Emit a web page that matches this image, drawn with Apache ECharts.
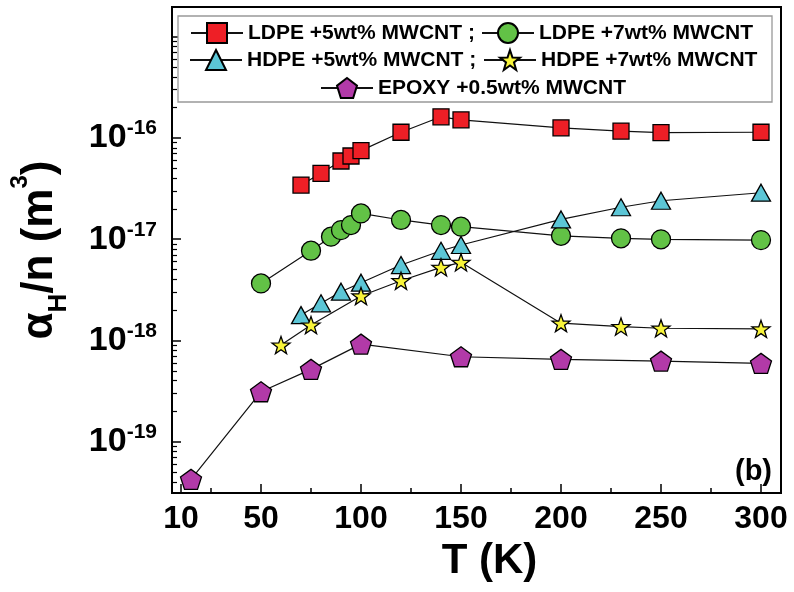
<!DOCTYPE html>
<html><head><meta charset="utf-8">
<script src="https://cdn.jsdelivr.net/npm/echarts@6/dist/echarts.min.js"></script>
<style>html,body{margin:0;padding:0;background:#fff}#c{width:794px;height:592px}</style>
</head><body><div id="c"></div>
<script>
const FONT = "'Liberation Sans', Arial, sans-serif";
const names = ['LDPE +5wt% MWCNT', 'LDPE +7wt% MWCNT', 'HDPE +5wt% MWCNT', 'HDPE +7wt% MWCNT', 'EPOXY +0.5wt% MWCNT'];

const T_LDPE5 = [70, 80, 90, 95, 100, 120, 140, 150, 200, 230, 250, 300];
const V_LDPE5 = [3.43e-17, 4.48e-17, 5.93e-17, 6.64e-17, 7.5e-17, 1.14e-16, 1.62e-16, 1.51e-16, 1.26e-16, 1.17e-16, 1.13e-16, 1.14e-16];
const T_LDPE7 = [50, 75, 85, 90, 95, 100, 120, 140, 150, 200, 230, 250, 300];
const V_LDPE7 = [3.66e-18, 7.7e-18, 1.06e-17, 1.23e-17, 1.38e-17, 1.8e-17, 1.55e-17, 1.38e-17, 1.33e-17, 1.08e-17, 1.02e-17, 9.98e-18, 9.8e-18];
const T_HDPE5 = [70, 80, 90, 100, 120, 140, 150, 200, 230, 250, 300];
const V_HDPE5 = [1.78e-18, 2.33e-18, 3.03e-18, 3.72e-18, 5.56e-18, 7.69e-18, 8.77e-18, 1.57e-17, 2.07e-17, 2.4e-17, 2.88e-17];
const T_HDPE7 = [60, 75, 100, 120, 140, 150, 200, 230, 250, 300];
const V_HDPE7 = [9.0e-19, 1.42e-18, 2.75e-18, 3.89e-18, 5.27e-18, 5.91e-18, 1.48e-18, 1.37e-18, 1.32e-18, 1.30e-18];
const T_EPOXY = [15, 50, 75, 100, 150, 200, 250, 300];
const V_EPOXY = [4.24e-20, 3.11e-19, 5.18e-19, 9.2e-19, 6.9e-19, 6.5e-19, 6.25e-19, 5.94e-19];

const xMajorTicks = [10, 50, 100, 150, 200, 250, 300];
const xMinorTicks = [25, 75, 125, 175, 225, 275];
const yMajorTicks = [1e-19, 1e-18, 1e-17, 1e-16, 1e-15];
const yLabelTicks = [1e-19, 1e-18, 1e-17, 1e-16];
const yDecades = [1e-20, 1e-19, 1e-18, 1e-17, 1e-16];
const yMinorMult = [2, 3, 4, 5, 6, 7, 8, 9];
const yMinorTicks = [];
yDecades.forEach(d => yMinorMult.forEach(m => yMinorTicks.push(m * d)));

const STAR = 'path://M50 0 L61.76 33.82 L97.55 34.55 L69.02 56.18 L79.39 90.45 L50 70 L20.61 90.45 L30.98 56.18 L2.45 34.55 L38.24 33.82 Z';
const PENTA = 'path://M50 0 L97.55 34.55 L79.39 90.45 L20.61 90.45 L2.45 34.55 Z';

function pairs(t, v) { return t.map((x, i) => [x, v[i]]); }
function mk(name, t, v, symbol, size, color) {
  return {
    name, type: 'line', data: pairs(t, v), symbol, symbolSize: size, symbolKeepAspect: true,
    itemStyle: { color, borderColor: '#000', borderWidth: 1.3 },
    lineStyle: { color: '#111', width: 1.2 },
    emphasis: { disabled: true }
  };
}

const chart = echarts.init(document.getElementById('c'), null, { renderer: 'canvas' });
const legendBase = {
  padding: 0, itemWidth: 52, itemHeight: 25, itemGap: 0, selectedMode: false,
  textStyle: { fontSize: 21, fontWeight: 'bold', color: '#000', fontFamily: FONT }
};
const semi = n => n + ' ;';
chart.setOption({
  animation: false,
  backgroundColor: '#fff',
  grid: { left: 166, top: 7, right: 13, bottom: 99, show: true, borderColor: '#000', borderWidth: 2 },
  legend: [
    Object.assign({}, legendBase, { data: [names[0]], left: 190, top: 22, formatter: semi }),
    Object.assign({}, legendBase, { data: [names[1]], left: 481, top: 22 }),
    Object.assign({}, legendBase, { data: [names[2]], left: 189, top: 49, formatter: semi }),
    Object.assign({}, legendBase, { data: [names[3]], left: 483, top: 49 }),
    Object.assign({}, legendBase, { data: [names[4]], left: 320, top: 77 })
  ],
  xAxis: [
    {
      type: 'value', min: 5.5, max: 310, position: 'bottom',
      axisLine: { show: true, lineStyle: { color: '#000', width: 2 } },
      axisTick: { show: true, inside: true, length: 9, customValues: xMajorTicks, lineStyle: { color: '#000', width: 1.5 } },
      axisLabel: { customValues: xMajorTicks, fontSize: 32, fontWeight: 'bold', color: '#000', fontFamily: FONT, margin: 10 },
      splitLine: { show: false },
      name: 'T (K)', nameLocation: 'middle', nameGap: 47,
      nameTextStyle: { fontSize: 42, fontWeight: 'bold', color: '#000', fontFamily: FONT, padding: [0, 0, 0, 26] }
    },
    {
      type: 'value', min: 5.5, max: 310, position: 'bottom',
      axisLine: { show: false },
      axisTick: { show: true, inside: true, length: 5, customValues: xMinorTicks, lineStyle: { color: '#000', width: 1.5 } },
      axisLabel: { show: false },
      splitLine: { show: false }
    }
  ],
  yAxis: [
    {
      type: 'log', logBase: 10, min: 3.11e-20, max: 1.97e-15, position: 'left',
      axisLine: { show: true, lineStyle: { color: '#000', width: 2 } },
      axisTick: { show: true, inside: true, length: 9, customValues: yMajorTicks, lineStyle: { color: '#000', width: 1.5 } },
      axisLabel: {
        customValues: yLabelTicks, margin: 15, color: '#000',
        formatter: v => '{b|10}{p|' + Math.round(Math.log10(v)) + '}',
        rich: {
          b: { fontSize: 34, fontWeight: 'bold', fontFamily: FONT, color: '#000', lineHeight: 40 },
          p: { fontSize: 21, fontWeight: 'bold', fontFamily: FONT, color: '#000', lineHeight: 15, verticalAlign: 'top' }
        }
      },
      splitLine: { show: false },
      name: '{a|α}{s|H}{a|/n (m}{p|3}{a|)}', nameLocation: 'middle', nameRotate: 90, nameGap: 100,
      nameTextStyle: {
        rich: {
          a: { fontSize: 44, fontWeight: 'bold', fontFamily: FONT, color: '#000', lineHeight: 64 },
          s: { fontSize: 26, fontWeight: 'bold', fontFamily: FONT, color: '#000', lineHeight: 8, verticalAlign: 'bottom' },
          p: { fontSize: 24, fontWeight: 'bold', fontFamily: FONT, color: '#000', lineHeight: 40, verticalAlign: 'top' }
        }
      }
    },
    {
      type: 'log', logBase: 10, min: 3.11e-20, max: 1.97e-15, position: 'left',
      axisLine: { show: false },
      axisTick: { show: true, inside: true, length: 5, customValues: yMinorTicks, lineStyle: { color: '#000', width: 1.2 } },
      axisLabel: { show: false },
      splitLine: { show: false }
    }
  ],
  graphic: [
    { type: 'rect', z: 3, shape: { x: 178, y: 16, width: 594, height: 86 }, style: { fill: '#fff', stroke: '#999', lineWidth: 1.3 } },
    { type: 'text', z: 5, x: 772, y: 472, style: { text: '(b)', fontSize: 29, fontWeight: 'bold', fontFamily: FONT, fill: '#000', align: 'right', verticalAlign: 'middle' } }
  ],
  series: [
    mk(names[0], T_LDPE5, V_LDPE5, 'rect', 16, '#ee1f26'),
    mk(names[1], T_LDPE7, V_LDPE7, 'circle', 19, '#62c246'),
    mk(names[2], T_HDPE5, V_HDPE5, 'triangle', [19, 17], '#5cc6d6'),
    mk(names[3], T_HDPE7, V_HDPE7, STAR, 18, '#f8f43a'),
    mk(names[4], T_EPOXY, V_EPOXY, PENTA, 21, '#b23aa8')
  ]
});
</script></body></html>
